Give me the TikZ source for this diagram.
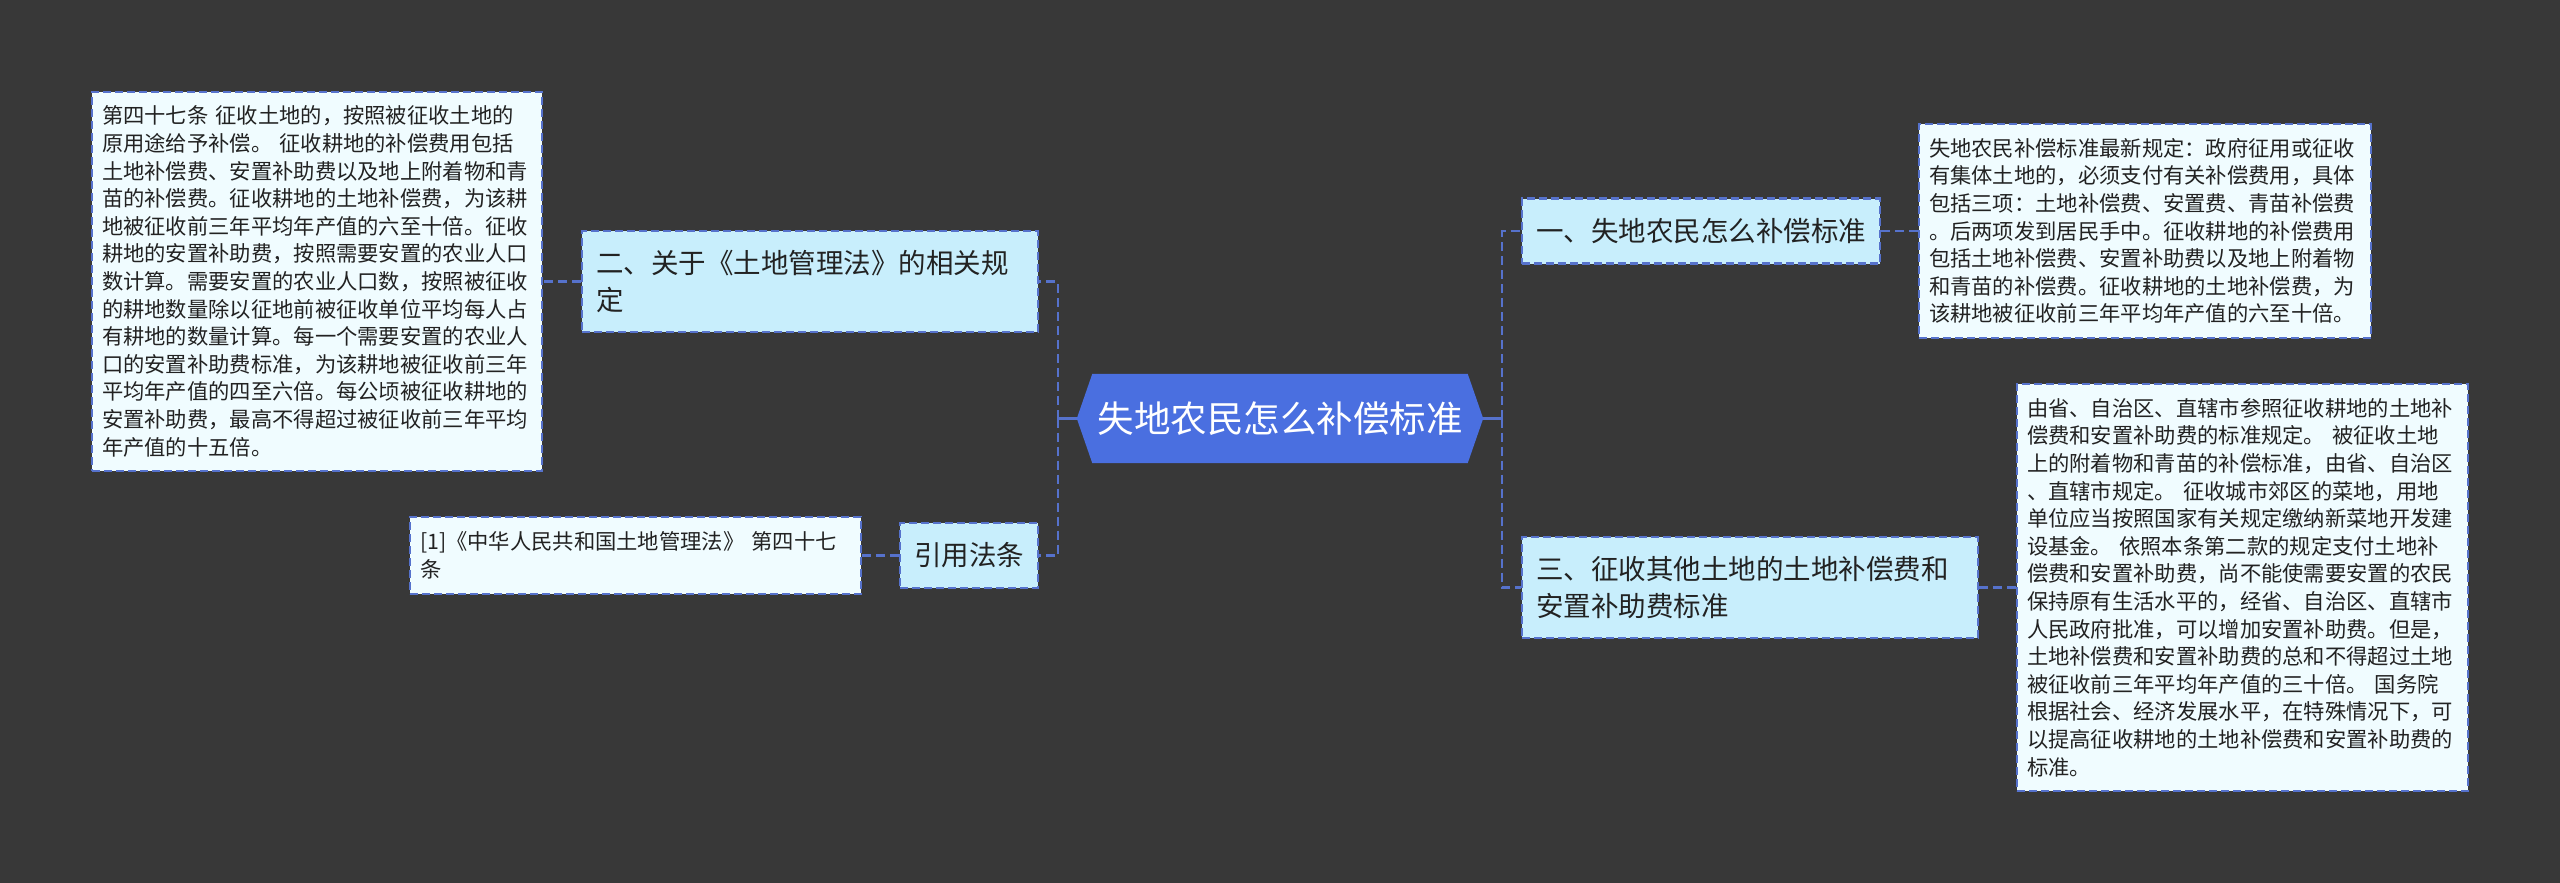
\documentclass[tikz,border=0pt]{standalone}
\usepackage{fontspec}
\setmainfont{Noto Sans CJK SC}
\usetikzlibrary{backgrounds}
\definecolor{bgcol}{HTML}{383838}
\definecolor{edgecol}{HTML}{5672CC}
\definecolor{topicfill}{HTML}{C8EEFC}
\definecolor{leaffill}{HTML}{F0FCFF}
\definecolor{centerfill}{HTML}{4A6FE0}
\definecolor{txtcol}{HTML}{222222}
\begin{document}
\begin{tikzpicture}[x=1pt,y=-1pt,
  boxline/.style={draw=edgecol, line width=2.4pt, dash pattern=on 8pt off 4pt},
  leaf/.style={boxline, fill=leaffill, text=txtcol, align=left, inner xsep=10pt, inner ysep=0pt,
    font=\fontsize{21.3}{27.6}\selectfont},
  topic/.style={boxline, fill=topicfill, text=txtcol, align=left, inner xsep=14pt, inner ysep=0pt,
    font=\fontsize{27.5}{36.5}\selectfont},
  conn/.style={draw=edgecol, line width=2.6pt, dash pattern=on 9pt off 5pt},
  stub/.style={draw=edgecol, line width=3pt}]
\useasboundingbox (0,0) rectangle (2560,883);

% central topic
\node[text=white, inner sep=0pt, minimum width=406pt, minimum height=89pt,
  font=\fontsize{36.5}{40}\selectfont] (c) at (1280,418.5) {失地农民怎么补偿标准};

% left branch
\node[topic, minimum width=456pt, minimum height=101pt, text width=428pt] (b2) at (810,281.5)
  {二、关于《土地管理法》的相关规\\定};
\node[topic, minimum width=138pt, minimum height=65pt, inner xsep=0pt, align=center] (b3) at (969,555.5)
  {引用法条};
\node[leaf, minimum width=450pt, minimum height=379pt, text width=430pt] (lL1) at (317,281.5)
  {第四十七条 征收土地的，按照被征收土地的\\
原用途给予补偿。 征收耕地的补偿费用包括\\
土地补偿费、安置补助费以及地上附着物和青\\
苗的补偿费。征收耕地的土地补偿费，为该耕\\
地被征收前三年平均年产值的六至十倍。征收\\
耕地的安置补助费，按照需要安置的农业人口\\
数计算。需要安置的农业人口数，按照被征收\\
的耕地数量除以征地前被征收单位平均每人占\\
有耕地的数量计算。每一个需要安置的农业人\\
口的安置补助费标准，为该耕地被征收前三年\\
平均年产值的四至六倍。每公顷被征收耕地的\\
安置补助费，最高不得超过被征收前三年平均\\
年产值的十五倍。};
\node[leaf, minimum width=451pt, minimum height=77pt, text width=431pt] (lL2) at (635.5,555.5)
  {[1]《中华人民共和国土地管理法》 第四十七\\条};

% right branch
\node[topic, minimum width=358pt, minimum height=65pt, text width=330pt] (b1) at (1701,231)
  {一、失地农民怎么补偿标准};
\node[topic, minimum width=456pt, minimum height=101pt, text width=428pt] (b4) at (1750,587.5)
  {三、征收其他土地的土地补偿费和\\安置补助费标准};
\node[leaf, minimum width=452pt, minimum height=214pt, text width=432pt] (lR1) at (2145,231)
  {失地农民补偿标准最新规定：政府征用或征收\\
有集体土地的，必须支付有关补偿费用，具体\\
包括三项：土地补偿费、安置费、青苗补偿费\\
。后两项发到居民手中。征收耕地的补偿费用\\
包括土地补偿费、安置补助费以及地上附着物\\
和青苗的补偿费。征收耕地的土地补偿费，为\\
该耕地被征收前三年平均年产值的六至十倍。};
\node[leaf, minimum width=451pt, minimum height=407pt, text width=431pt] (lR2) at (2242.5,587.5)
  {由省、自治区、直辖市参照征收耕地的土地补\\
偿费和安置补助费的标准规定。 被征收土地\\
上的附着物和青苗的补偿标准，由省、自治区\\
、直辖市规定。 征收城市郊区的菜地，用地\\
单位应当按照国家有关规定缴纳新菜地开发建\\
设基金。 依照本条第二款的规定支付土地补\\
偿费和安置补助费，尚不能使需要安置的农民\\
保持原有生活水平的，经省、自治区、直辖市\\
人民政府批准，可以增加安置补助费。但是，\\
土地补偿费和安置补助费的总和不得超过土地\\
被征收前三年平均年产值的三十倍。 国务院\\
根据社会、经济发展水平，在特殊情况下，可\\
以提高征收耕地的土地补偿费和安置补助费的\\
标准。};

% junctions
\coordinate (jl) at (1058,418.5);
\coordinate (jr) at (1502,418.5);

% connectors
\draw[stub] (c.west) -- (jl);
\draw[stub] (c.east) -- (jr);
\draw[conn] (jl) |- (b2.east);
\draw[conn] (jl) |- (b3.east);
\draw[conn] (jr) |- (b1.west);
\draw[conn] (jr) |- (b4.west);
\draw[conn] (b2.west) -- (lL1.east);
\draw[conn] (b3.west) -- (lL2.east);
\draw[conn] (b1.east) -- (lR1.west);
\draw[conn] (b4.east) -- (lR2.west);

\begin{pgfonlayer}{background}
\fill[bgcol] (0,0) rectangle (2560,883);
\fill[centerfill] (c.west) -- ([xshift=15.5pt]c.north west) -- ([xshift=-15.5pt]c.north east)
  -- (c.east) -- ([xshift=-15.5pt]c.south east) -- ([xshift=15.5pt]c.south west) -- cycle;
\end{pgfonlayer}
\end{tikzpicture}
\end{document}
